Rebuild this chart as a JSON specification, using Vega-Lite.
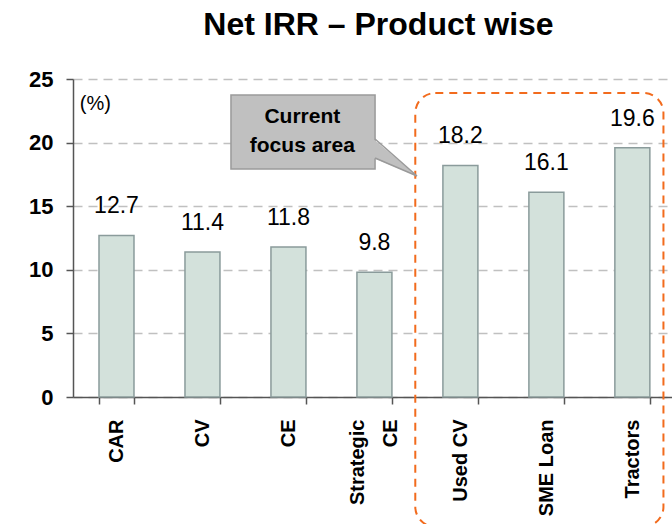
{
  "$schema": "https://vega.github.io/schema/vega-lite/v6.json",
  "width": 599,
  "height": 318,
  "autosize": {"type": "none"},
  "padding": {"left": 73, "top": 79, "right": 0, "bottom": 127},
  "background": "white",
  "config": {"view": {"stroke": null}},
  "title": {
    "text": "Net IRR – Product wise",
    "font": "Liberation Sans",
    "fontSize": 32,
    "fontWeight": "bold",
    "color": "black",
    "anchor": "middle",
    "dx": 6,
    "offset": 26
  },
  "datasets": {
    "irr": [
      {"product": "CAR", "value": 12.7},
      {"product": "CV", "value": 11.4},
      {"product": "CE", "value": 11.8},
      {"product": "Strategic CE", "value": 9.8},
      {"product": "Used CV", "value": 18.2},
      {"product": "SME Loan", "value": 16.1},
      {"product": "Tractors", "value": 19.6}
    ],
    "focus": [{"x": 4.0, "x2": 6.9, "y": 23.9, "y2": -10.2}],
    "callout": [{"x": 1.846, "x2": 3.53, "y": 23.74, "y2": 17.92}],
    "pointerFill": [
      {"x": 3.51, "y": 20.28, "y2": 18.79},
      {"x": 4.02, "y": 17.37, "y2": 17.37}
    ],
    "pointerEdge": [
      {"o": 1, "x": 3.53, "y": 20.28},
      {"o": 2, "x": 4.02, "y": 17.37},
      {"o": 3, "x": 3.53, "y": 18.79}
    ],
    "notes": [
      {"x": 2.68, "y": 21.54, "t": "Current\nfocus area"}
    ],
    "unit": [{"x": 0.08, "y": 23.03, "t": "(%)"}]
  },
  "resolve": {"scale": {"x": "independent"}},
  "layer": [
    {
      "data": {"name": "irr"},
      "encoding": {
        "x": {
          "field": "product",
          "type": "nominal",
          "sort": null,
          "scale": {"paddingInner": 0.593, "paddingOuter": 0.28, "align": 0.54},
          "axis": {
            "title": null,
            "labelAngle": -90,
            "labelAlign": "right",
            "labelBaseline": "middle",
            "labelFont": "Liberation Sans",
            "labelFontSize": 20,
            "labelFontWeight": "bold",
            "labelColor": "black",
            "labelPadding": 15,
            "labelLineHeight": 33,
            "labelOffset": {"condition": {"test": "datum.label == 'Strategic CE'", "value": -17}, "value": 0},
            "labelExpr": "datum.label == 'Strategic CE' ? ['Strategic', 'CE'] : datum.label",
            "domainColor": "#555555",
            "domainWidth": 1.5,
            "tickColor": "#555555",
            "tickWidth": 1.5,
            "tickSize": 7,
            "tickBand": "extent",
            "grid": false
          }
        },
        "y": {
          "field": "value",
          "type": "quantitative",
          "scale": {"domain": [0, 25], "nice": false},
          "axis": {
            "title": null,
            "values": [0, 5, 10, 15, 20, 25],
            "labelFont": "Liberation Sans",
            "labelFontSize": 22,
            "labelFontWeight": "bold",
            "labelColor": "black",
            "labelPadding": 13,
            "domainColor": "#555555",
            "domainWidth": 1.5,
            "tickColor": "#555555",
            "tickWidth": 1.5,
            "tickSize": 7,
            "grid": true,
            "gridColor": "#c0c0c0",
            "gridWidth": 1.5,
            "gridDash": [9, 6]
          }
        }
      },
      "layer": [
        {
          "mark": {"type": "bar", "fill": "#d3e1db", "stroke": "#8a9b9b", "strokeWidth": 1.5}
        },
        {
          "mark": {
            "type": "text",
            "baseline": "alphabetic",
            "dy": -22,
            "font": "Liberation Sans",
            "fontSize": 23,
            "color": "black"
          },
          "encoding": {"text": {"field": "value", "type": "quantitative", "format": ".1f"}}
        }
      ]
    },
    {
      "layer": [
        {
          "data": {"name": "focus"},
          "mark": {
            "type": "rect",
            "fill": null,
            "fillOpacity": 0,
            "stroke": "#f26b1d",
            "strokeWidth": 2,
            "strokeDash": [8, 6],
            "cornerRadius": 20
          },
          "encoding": {
            "x": {"field": "x", "type": "quantitative", "scale": {"domain": [0, 7], "nice": false, "zero": false}, "axis": null},
            "x2": {"field": "x2"},
            "y": {"field": "y", "type": "quantitative", "scale": {"domain": [0, 25], "nice": false}},
            "y2": {"field": "y2"}
          }
        },
        {
          "data": {"name": "callout"},
          "mark": {"type": "rect", "fill": "#c0c0c0", "stroke": "#9a9a9a", "strokeWidth": 1.5},
          "encoding": {
            "x": {"field": "x", "type": "quantitative", "scale": {"domain": [0, 7], "nice": false, "zero": false}, "axis": null},
            "x2": {"field": "x2"},
            "y": {"field": "y", "type": "quantitative", "scale": {"domain": [0, 25], "nice": false}},
            "y2": {"field": "y2"}
          }
        },
        {
          "data": {"name": "pointerFill"},
          "mark": {"type": "area", "fill": "#c0c0c0", "orient": "vertical"},
          "encoding": {
            "x": {"field": "x", "type": "quantitative", "scale": {"domain": [0, 7], "nice": false, "zero": false}, "axis": null},
            "y": {"field": "y", "type": "quantitative", "scale": {"domain": [0, 25], "nice": false}},
            "y2": {"field": "y2"}
          }
        },
        {
          "data": {"name": "pointerEdge"},
          "mark": {"type": "line", "stroke": "#9a9a9a", "strokeWidth": 1.5},
          "encoding": {
            "x": {"field": "x", "type": "quantitative", "scale": {"domain": [0, 7], "nice": false, "zero": false}, "axis": null},
            "y": {"field": "y", "type": "quantitative", "scale": {"domain": [0, 25], "nice": false}},
            "order": {"field": "o"}
          }
        },
        {
          "data": {"name": "notes"},
          "mark": {
            "type": "text",
            "align": "center",
            "baseline": "alphabetic",
            "lineBreak": "\n",
            "lineHeight": 29,
            "font": "Liberation Sans",
            "fontSize": 21,
            "fontWeight": "bold",
            "color": "black"
          },
          "encoding": {
            "x": {"field": "x", "type": "quantitative", "scale": {"domain": [0, 7], "nice": false, "zero": false}, "axis": null},
            "y": {"field": "y", "type": "quantitative", "scale": {"domain": [0, 25], "nice": false}},
            "text": {"field": "t"}
          }
        },
        {
          "data": {"name": "unit"},
          "mark": {
            "type": "text",
            "align": "left",
            "baseline": "middle",
            "font": "Liberation Sans",
            "fontSize": 20,
            "color": "black"
          },
          "encoding": {
            "x": {"field": "x", "type": "quantitative", "scale": {"domain": [0, 7], "nice": false, "zero": false}, "axis": null},
            "y": {"field": "y", "type": "quantitative", "scale": {"domain": [0, 25], "nice": false}},
            "text": {"field": "t"}
          }
        }
      ]
    }
  ]
}
